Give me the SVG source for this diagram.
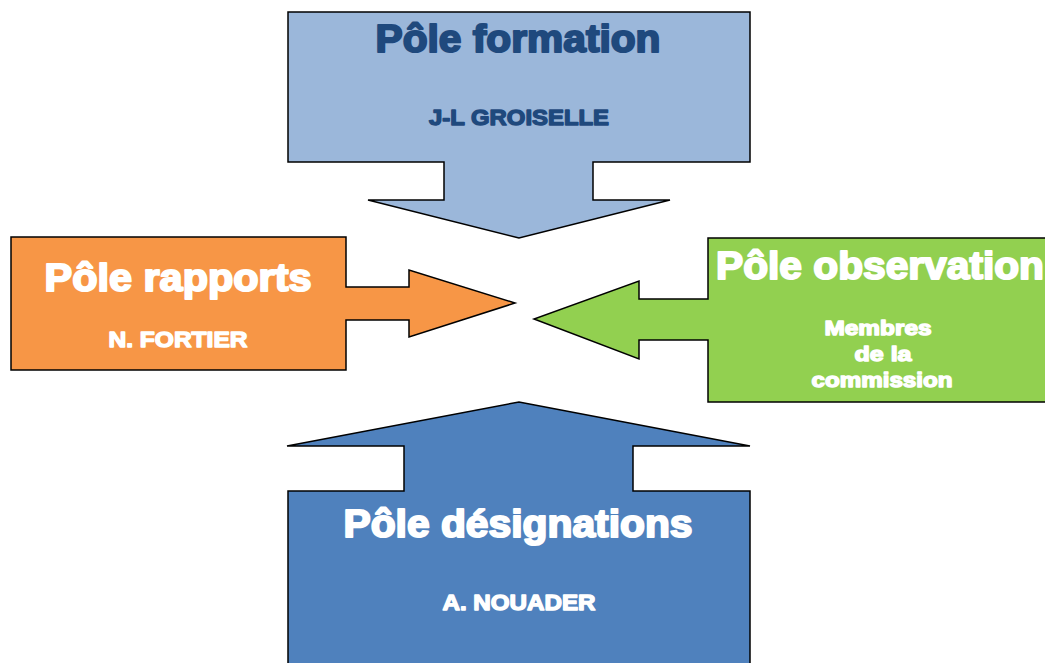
<svg xmlns="http://www.w3.org/2000/svg" width="1045" height="663" viewBox="0 0 1045 663">
<style>
.shape{stroke:#000;stroke-width:1.5;stroke-linejoin:miter}
.t{font-family:"Liberation Sans",Arial,sans-serif;font-weight:bold;text-anchor:middle;stroke-width:1.4;stroke-linejoin:round}
.w{fill:#fff;stroke:#fff}
.b{fill:#1F497D;stroke:#1F497D}
.big{font-size:38px;stroke-width:2}
.small{font-size:22px}
.mid{font-size:20px}
</style>
<rect width="1045" height="663" fill="#fff"/>
<g id="connectors"></g>
<g id="pole-formation">
<path class="shape" fill="#9BB7DA" d="M288,12 H750 V162 H593 V200 H670 L519,238 L368,200 H444 V162 H288 Z"/>
<text class="t b big" x="518" y="52" textLength="285" lengthAdjust="spacingAndGlyphs">Pôle formation</text>
<text class="t b small" x="519" y="125" textLength="180" lengthAdjust="spacingAndGlyphs">J-L GROISELLE</text>
</g>
<g id="pole-rapports">
<path class="shape" fill="#F79646" d="M11,237 H346 V287 H409 V270 L515,303 L409,337 V320 H346 V370 H11 Z"/>
<text class="t w big" x="178" y="291" textLength="267" lengthAdjust="spacingAndGlyphs">Pôle rapports</text>
<text class="t w small" x="178" y="347" textLength="139" lengthAdjust="spacingAndGlyphs">N. FORTIER</text>
</g>
<g id="pole-observation">
<path class="shape" fill="#92D050" d="M1047,238 H708 V299 H639 V281 L534,319 L639,359 V340 H708 V402 H1047 Z"/>
<text class="t w big" x="880" y="279" textLength="328" lengthAdjust="spacingAndGlyphs">Pôle observation</text>
<text class="t w mid" x="878" y="335" textLength="107" lengthAdjust="spacingAndGlyphs">Membres</text>
<text class="t w mid" x="883" y="361" textLength="57" lengthAdjust="spacingAndGlyphs">de la</text>
<text class="t w mid" x="882" y="387" textLength="141" lengthAdjust="spacingAndGlyphs">commission</text>
</g>
<g id="pole-designations">
<path class="shape" fill="#4F81BD" d="M288,670 V491 H404 V446 H287 L519,402 L750,446 H633 V491 H750 V670 Z"/>
<text class="t w big" x="518" y="537" textLength="349" lengthAdjust="spacingAndGlyphs">Pôle désignations</text>
<text class="t w small" x="519" y="610" textLength="153" lengthAdjust="spacingAndGlyphs">A. NOUADER</text>
</g>
</svg>
